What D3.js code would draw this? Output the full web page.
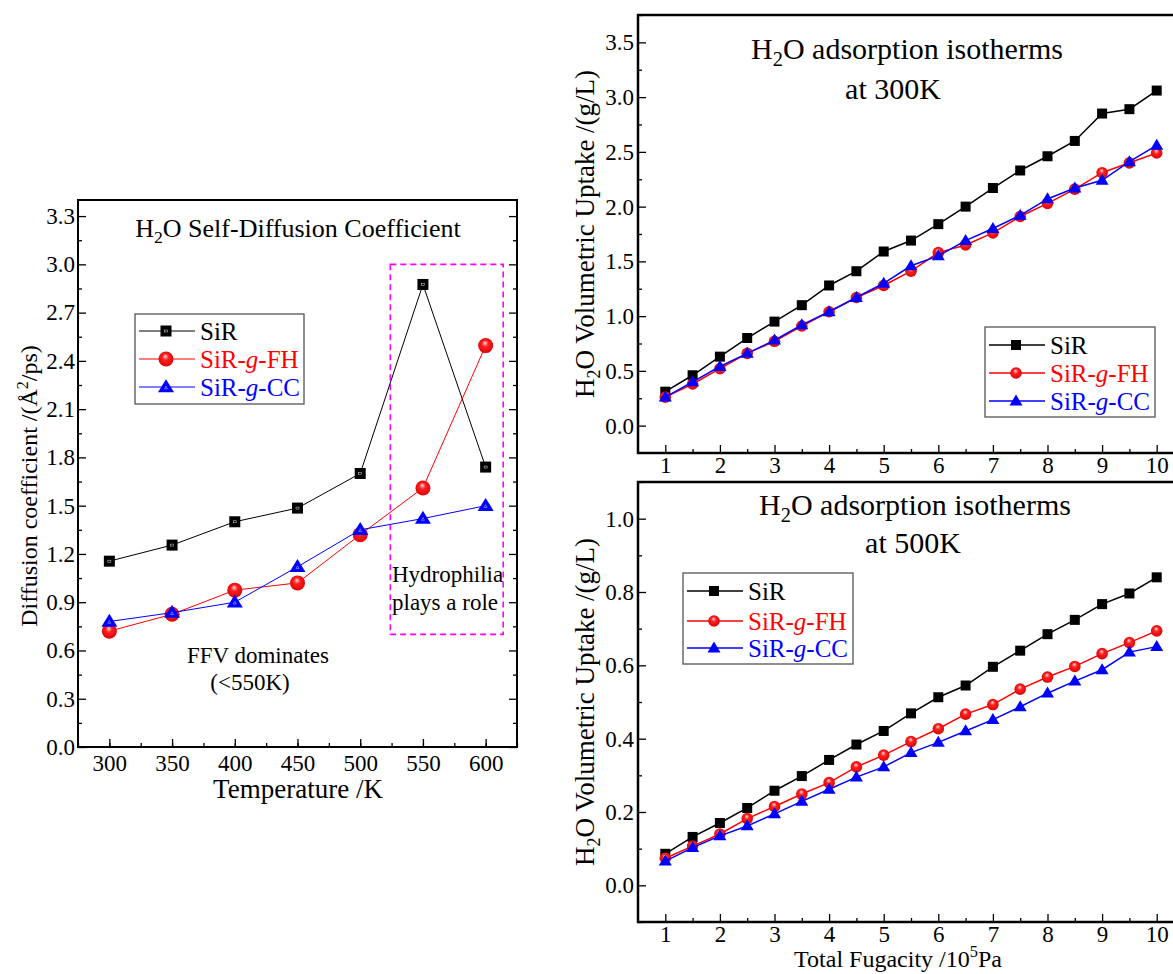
<!DOCTYPE html>
<html>
<head>
<meta charset="utf-8">
<script src="https://cdn.jsdelivr.net/npm/d3@7"></script>
<style>
  body { margin: 0; background: #fff; }
  svg { display: block; }
  text { font-family: "Liberation Serif", "Times New Roman", serif; }
</style>
</head>
<body>
<script>
// ---- data ----
var tempK = [300, 350, 400, 450, 500, 550, 600];
var diffSiR = [1.155, 1.255, 1.40, 1.485, 1.70, 2.875, 1.74];
var diffFH = [0.72, 0.825, 0.975, 1.02, 1.32, 1.61, 2.495];
var diffCC = [0.78, 0.835, 0.90, 1.12, 1.35, 1.42, 1.50];

var fugacity = [1, 1.5, 2, 2.5, 3, 3.5, 4, 4.5, 5, 5.5, 6, 6.5, 7, 7.5, 8, 8.5, 9, 9.5, 10];
var up300SiR = [0.31, 0.46, 0.63, 0.80, 0.95, 1.10, 1.28, 1.41, 1.59, 1.69, 1.84, 2.00, 2.17, 2.33, 2.46, 2.60, 2.85, 2.89, 3.06];
var up300FH = [0.26, 0.38, 0.52, 0.66, 0.77, 0.91, 1.04, 1.17, 1.28, 1.41, 1.58, 1.65, 1.76, 1.91, 2.03, 2.16, 2.31, 2.40, 2.49];
var up300CC = [0.26, 0.40, 0.54, 0.66, 0.78, 0.92, 1.04, 1.17, 1.30, 1.46, 1.55, 1.69, 1.80, 1.92, 2.07, 2.17, 2.24, 2.41, 2.56];
var up500SiR = [0.086, 0.132, 0.170, 0.211, 0.258, 0.298, 0.342, 0.384, 0.421, 0.469, 0.513, 0.545, 0.596, 0.640, 0.685, 0.724, 0.767, 0.796, 0.840];
var up500FH = [0.074, 0.107, 0.140, 0.182, 0.215, 0.249, 0.280, 0.323, 0.355, 0.392, 0.427, 0.467, 0.493, 0.535, 0.568, 0.597, 0.632, 0.662, 0.694];
var up500CC = [0.066, 0.103, 0.135, 0.162, 0.195, 0.229, 0.262, 0.295, 0.323, 0.362, 0.390, 0.421, 0.452, 0.487, 0.524, 0.557, 0.588, 0.636, 0.651];

var seriesNames = ["SiR", "SiR-g-FH", "SiR-g-CC"];

// tick labels
var tempTicks = [300, 350, 400, 450, 500, 550, 600];
var diffTicks = [0.0, 0.3, 0.6, 0.9, 1.2, 1.5, 1.8, 2.1, 2.4, 2.7, 3.0, 3.3];
var fugTicks = [1, 2, 3, 4, 5, 6, 7, 8, 9, 10];
var up300Ticks = [0.0, 0.5, 1.0, 1.5, 2.0, 2.5, 3.0, 3.5];
var up500Ticks = [0.0, 0.2, 0.4, 0.6, 0.8, 1.0];

// dashed "hydrophilia" region (data units)
var hydroBoxX = [524, 614];
var hydroBoxY = [0.70, 3.0];

// ---------------------------------------------------------------
var W = 1173, H = 974;
var svg = d3.select("body").append("svg")
    .attr("width", W)
    .attr("height", H);

// sphere-looking gradient for the red circles
var defs = svg.append("defs");
var grad = defs.append("radialGradient")
    .attr("id", "redball")
    .attr("cx", "0.5").attr("cy", "0.5").attr("r", "0.6")
    .attr("fx", "0.45").attr("fy", "0.3");
grad.append("stop").attr("offset", "0").attr("stop-color", "#ffe0e0");
grad.append("stop").attr("offset", "0.35").attr("stop-color", "#ff2020");
grad.append("stop").attr("offset", "1").attr("stop-color", "#d00000");

var colors = ["#000000", "#ff0000", "#0000ff"];

function marker(g, kind, x, y, big) {
  if (kind == 0) {
    var s = big ? 11 : 10;
    g.append("rect")
      .attr("x", x - s / 2).attr("y", y - s / 2)
      .attr("width", s).attr("height", s)
      .attr("fill", "#000");
    if (big) {
      g.append("rect")
        .attr("x", x - 1.5).attr("y", y - 1)
        .attr("width", 3).attr("height", 2)
        .attr("fill", "none").attr("stroke", "#ddd").attr("stroke-width", 0.5);
    }
  } else if (kind == 1) {
    g.append("circle")
      .attr("cx", x).attr("cy", y)
      .attr("r", big ? 7.5 : 5.8)
      .attr("fill", "url(#redball)");
  } else {
    var w = big ? 16 : 13, h = big ? 13 : 11;
    g.append("path")
      .attr("d", "M" + x + "," + (y - h * 0.6) + "L" + (x + w / 2) + "," + (y + h * 0.4) + "L" + (x - w / 2) + "," + (y + h * 0.4) + "Z")
      .attr("fill", "#0000ff");
    if (big) {
      g.append("path")
        .attr("d", "M" + x + "," + (y - 1) + "L" + (x + 1.5) + "," + (y + 1.8) + "L" + (x - 1.5) + "," + (y + 1.8) + "Z")
        .attr("fill", "none").attr("stroke", "#ccd").attr("stroke-width", 0.5);
    }
  }
}

// build one framed panel with inward ticks
function panel(cfg) {
  var x = d3.scaleLinear().domain(cfg.xDomain).range([cfg.left, cfg.right]);
  var y = d3.scaleLinear().domain(cfg.yDomain).range([cfg.bottom, cfg.top]);
  var g = svg.append("g");

  // minor ticks
  g.append("g")
    .attr("transform", "translate(0," + cfg.bottom + ")")
    .call(d3.axisBottom(x).tickValues(cfg.xMinor).tickSize(-4).tickFormat(""));
  g.append("g")
    .attr("transform", "translate(" + cfg.left + ",0)")
    .call(d3.axisLeft(y).tickValues(cfg.yMinor).tickSize(-4).tickFormat(""));

  // major ticks + labels
  g.append("g")
    .attr("transform", "translate(0," + cfg.bottom + ")")
    .call(d3.axisBottom(x).tickValues(cfg.xTicks).tickSize(-8).tickPadding(cfg.xPad).tickFormat(cfg.xFmt));
  g.append("g")
    .attr("transform", "translate(" + cfg.left + ",0)")
    .call(d3.axisLeft(y).tickValues(cfg.yTicks).tickSize(-8).tickPadding(cfg.yPad).tickFormat(d3.format(".1f")));

  if (cfg.rightTicks) {
    g.append("g")
      .attr("transform", "translate(" + cfg.right + ",0)")
      .call(d3.axisRight(y).tickValues(cfg.yTicks).tickSize(-8).tickFormat(""));
    g.append("g")
      .attr("transform", "translate(" + cfg.right + ",0)")
      .call(d3.axisRight(y).tickValues(cfg.yMinor).tickSize(-4).tickFormat(""));
  }

  g.selectAll(".domain").remove();
  g.selectAll(".tick line").attr("stroke", "#000").attr("stroke-width", 1.3);
  g.selectAll(".tick text")
    .attr("fill", "#000")
    .style("font-family", '"Liberation Serif", "Times New Roman", serif')
    .style("font-size", cfg.tickFont + "px");

  // frame
  g.append("rect")
    .attr("x", cfg.left).attr("y", cfg.top)
    .attr("width", cfg.right - cfg.left).attr("height", cfg.bottom - cfg.top)
    .attr("fill", "none").attr("stroke", "#000").attr("stroke-width", cfg.frameW);

  return { g: g, x: x, y: y };
}

function drawSeries(p, xs, ys, kind, big, lw) {
  var line = d3.line()
    .x(function(d, i) { return p.x(xs[i]); })
    .y(function(d) { return p.y(d); });
  p.g.append("path")
    .datum(ys)
    .attr("d", line)
    .attr("fill", "none")
    .attr("stroke", colors[kind])
    .attr("stroke-width", lw);
  var mg = p.g.append("g");
  ys.forEach(function(d, i) { marker(mg, kind, p.x(xs[i]), p.y(d), big); });
}

function legend(x0, y0, w, h, rows, big, lw) {
  var g = svg.append("g");
  g.append("rect")
    .attr("x", x0).attr("y", y0).attr("width", w).attr("height", h)
    .attr("fill", "#fff").attr("stroke", "#555").attr("stroke-width", 1.3);
  seriesNames.forEach(function(name, i) {
    var yy = rows[i];
    g.append("line")
      .attr("x1", x0 + 4).attr("x2", x0 + 60)
      .attr("y1", yy).attr("y2", yy)
      .attr("stroke", colors[i]).attr("stroke-width", lw);
    marker(g, i, x0 + 31, yy, big);
    var t = g.append("text")
      .attr("x", x0 + 65).attr("y", yy + 9)
      .attr("fill", colors[i])
      .style("font-size", "25px");
    var parts = name.split("-");
    if (parts.length == 1) {
      t.text(name);
    } else {
      t.append("tspan").text(parts[0] + "-");
      t.append("tspan").style("font-style", "italic").text(parts[1]);
      t.append("tspan").text("-" + parts[2]);
    }
  });
}

function subText(x, y, size, pre, sub, post, anchor, sup) {
  var t = svg.append("text")
    .attr("x", x).attr("y", y)
    .attr("text-anchor", anchor || "middle")
    .style("font-size", size + "px");
  t.append("tspan").text(pre);
  t.append("tspan")
    .attr("dy", sup ? -size * 0.4 : size * 0.22)
    .style("font-size", (size * 0.68) + "px")
    .text(sub);
  t.append("tspan")
    .attr("dy", sup ? size * 0.4 : -size * 0.22)
    .text(post);
  return t;
}

function range(a, b, s) {
  var out = [];
  for (var v = a; v <= b + 1e-9; v += s) out.push(+v.toFixed(4));
  return out;
}

// ---------------- left panel: self diffusion ----------------
var pL = panel({
  left: 78, right: 517, top: 200, bottom: 747,
  xDomain: [275, 625], yDomain: [0, 3.4],
  xTicks: tempTicks, yTicks: diffTicks,
  xMinor: range(275, 625, 25), yMinor: range(0.15, 3.3, 0.3),
  xFmt: d3.format("d"), xPad: 8, yPad: 3, tickFont: 23,
  rightTicks: true, frameW: 2
});

pL.g.append("rect")
  .attr("x", pL.x(hydroBoxX[0])).attr("y", pL.y(hydroBoxY[1]))
  .attr("width", pL.x(hydroBoxX[1]) - pL.x(hydroBoxX[0]))
  .attr("height", pL.y(hydroBoxY[0]) - pL.y(hydroBoxY[1]))
  .attr("fill", "none").attr("stroke", "#ff00ff")
  .attr("stroke-width", 1.6).attr("stroke-dasharray", "6,4");

drawSeries(pL, tempK, diffSiR, 0, true, 1);
drawSeries(pL, tempK, diffFH, 1, true, 1);
drawSeries(pL, tempK, diffCC, 2, true, 1);

legend(135, 314, 169, 90, [331, 359, 387], true, 1);

subText(298, 237, 26, "H", "2", "O Self-Diffusion Coefficient");

svg.append("text").attr("x", 392).attr("y", 582).style("font-size", "23px").text("Hydrophilia");
svg.append("text").attr("x", 392).attr("y", 610).style("font-size", "23px").text("plays a role");
svg.append("text").attr("x", 258).attr("y", 663).attr("text-anchor", "middle").style("font-size", "23px").text("FFV dominates");
svg.append("text").attr("x", 250).attr("y", 690).attr("text-anchor", "middle").style("font-size", "23px").text("(<550K)");

svg.append("text").attr("x", 298).attr("y", 798).attr("text-anchor", "middle")
  .style("font-size", "27px").text("Temperature /K");

var yl = svg.append("g").attr("transform", "translate(37,486) rotate(-90)");
(function() {
  var t = yl.append("text").attr("text-anchor", "middle").style("font-size", "24px");
  t.append("tspan").text("Diffusion coefficient /(\u00C5");
  t.append("tspan").attr("dy", -9).style("font-size", "16px").text("2");
  t.append("tspan").attr("dy", 9).text("/ps)");
})();

// ---------------- top right: 300K ----------------
var pT = panel({
  left: 638, right: 1184, top: 15, bottom: 453,
  xDomain: [0.5, 10.5], yDomain: [-0.25, 3.75],
  xTicks: fugTicks, yTicks: up300Ticks,
  xMinor: range(1.5, 10, 1), yMinor: range(0.25, 3.75, 0.5),
  xFmt: d3.format("d"), xPad: 4, yPad: 4, tickFont: 23,
  rightTicks: false, frameW: 2.5
});
drawSeries(pT, fugacity, up300SiR, 0, false, 1.5);
drawSeries(pT, fugacity, up300FH, 1, false, 1.5);
drawSeries(pT, fugacity, up300CC, 2, false, 1.5);
legend(985, 327, 170, 90, [345, 373, 401], false, 1.5);

subText(907, 59, 30, "H", "2", "O adsorption isotherms");
svg.append("text").attr("x", 893).attr("y", 99).attr("text-anchor", "middle")
  .style("font-size", "30px").text("at 300K");

// ---------------- bottom right: 500K ----------------
var pB = panel({
  left: 638, right: 1184, top: 482, bottom: 922,
  xDomain: [0.5, 10.5], yDomain: [-0.1, 1.1],
  xTicks: fugTicks, yTicks: up500Ticks,
  xMinor: range(1.5, 10, 1), yMinor: range(-0.1, 1.1, 0.2),
  xFmt: d3.format("d"), xPad: 4, yPad: 4, tickFont: 23,
  rightTicks: false, frameW: 2.5
});
drawSeries(pB, fugacity, up500SiR, 0, false, 1.5);
drawSeries(pB, fugacity, up500FH, 1, false, 1.5);
drawSeries(pB, fugacity, up500CC, 2, false, 1.5);
legend(683, 573, 170, 91, [591, 621, 648], false, 1.5);

subText(915, 515, 30, "H", "2", "O adsorption isotherms");
svg.append("text").attr("x", 913).attr("y", 553).attr("text-anchor", "middle")
  .style("font-size", "30px").text("at 500K");

subText(898, 967, 24, "Total Fugacity /10", "5", "Pa", "middle", true);

[234, 702].forEach(function(cy) {
  var gg = svg.append("g").attr("transform", "translate(594," + cy + ") rotate(-90)");
  var t = gg.append("text").attr("text-anchor", "middle").style("font-size", "27px");
  t.append("tspan").text("H");
  t.append("tspan").attr("dy", 6).style("font-size", "18px").text("2");
  t.append("tspan").attr("dy", -6).text("O Volumetric Uptake /(g/L)");
});
</script>
</body>
</html>
